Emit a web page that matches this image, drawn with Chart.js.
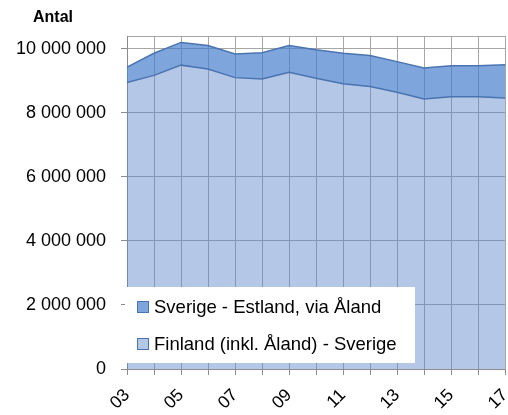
<!DOCTYPE html>
<html>
<head>
<meta charset="utf-8">
<script src="https://cdn.jsdelivr.net/npm/chart.js@4/dist/chart.umd.min.js"></script>
<style>
html,body{margin:0;padding:0;background:#fff;}
</style>
</head>
<body>
<canvas id="c" width="508" height="415"></canvas>
<script>
const years = ['03','04','05','06','07','08','09','10','11','12','13','14','15','16','17'];
const finlandSverige = [8950000,9170000,9490000,9370000,9100000,9060000,9270000,9080000,8910000,8820000,8640000,8430000,8500000,8500000,8460000];
const sverigeEstland = [480000,690000,710000,730000,740000,820000,830000,890000,950000,970000,960000,970000,970000,970000,1040000];
const yTickValues = [0,2000000,4000000,6000000,8000000,10000000];
const yMax = 10400000;
const labelEstland = 'Sverige - Estland, via Åland';
const labelFinland = 'Finland (inkl. Åland) - Sverige';
const axisTitle = 'Antal';

const colFin = 'rgba(88,131,202,0.45)';
const colEst = 'rgba(71,128,206,0.7)';
const colFinSolid = '#b4c7e7';
const colEstSolid = '#7ea6dd';
const colLine = '#4a74b0';
const gridCol = '#a6a6a6';
const axisCol = '#8c8c8c';

function fmt(v){
  return String(v).replace(/\B(?=(\d{3})+(?!\d))/g, ' ');
}

const overlay = {
  id:'overlay',
  afterDraw(chart){
    const ctx = chart.ctx;
    ctx.save();
    ctx.font = 'bold 16px "Liberation Sans", Arial, sans-serif';
    ctx.fillStyle = '#000';
    ctx.textBaseline = 'middle';
    ctx.textAlign = 'left';
    ctx.fillText(axisTitle, 33, 18);
    ctx.fillStyle = '#fff';
    ctx.fillRect(125, 287, 290, 76);
    const items = [[labelEstland, colEstSolid, 307],[labelFinland, colFinSolid, 344]];
    ctx.font = '18.5px "Liberation Sans", Arial, sans-serif';
    items.forEach(([t,c,y])=>{
      ctx.fillStyle = c;
      ctx.fillRect(137.5, y-5.5, 11, 11);
      ctx.strokeStyle = colLine;
      ctx.lineWidth = 1;
      ctx.strokeRect(137.5, y-5.5, 11, 11);
      ctx.fillStyle = '#000';
      ctx.fillText(t, 154, y+1);
    });
    ctx.restore();
  }
};

new Chart(document.getElementById('c'), {
  type:'line',
  data:{
    labels: years,
    datasets:[
      {label: labelFinland, data: finlandSverige, fill:'origin', backgroundColor: colFin, borderColor: colLine, borderWidth:1.5, pointRadius:0, tension:0},
      {label: labelEstland, data: sverigeEstland, fill:'-1', backgroundColor: colEst, borderColor: colLine, borderWidth:1.5, pointRadius:0, tension:0}
    ]
  },
  options:{
    responsive:false,
    animation:false,
    layout:{padding:{top:36,right:3,left:0,bottom:0}},
    plugins:{legend:{display:false}, tooltip:{enabled:false}},
    scales:{
      x:{
        offset:false,
        grid:{color:gridCol, tickLength:6, tickColor:axisCol},
        border:{color:axisCol},
        ticks:{
          autoSkip:false, minRotation:45, maxRotation:45, padding:10,
          color:'#000', font:{size:17.5, family:'"Liberation Sans", Arial, sans-serif'},
          callback:function(v,i){ return i%2===0 ? years[i] : ''; }
        },
        afterFit(s){ s.height = 46; s.paddingLeft = 0; s.paddingRight = 0; }
      },
      y:{
        stacked:true,
        min:0, max:yMax,
        afterBuildTicks(s){ s.ticks = yTickValues.concat([yMax]).map(v=>({value:v})); },
        grid:{color:gridCol, tickLength:6, tickColor:(c)=> c.tick && c.tick.value===yMax ? 'rgba(0,0,0,0)' : axisCol},
        border:{color:axisCol},
        ticks:{
          padding:15, color:'#000', font:{size:18, family:'"Liberation Sans", Arial, sans-serif'},
          callback:function(v){ return v===yMax ? '' : fmt(v); }
        },
        afterFit(s){ s.width = 127; s.paddingTop = 0; s.paddingBottom = 0; }
      }
    }
  },
  plugins:[overlay]
});
</script>
</body>
</html>
